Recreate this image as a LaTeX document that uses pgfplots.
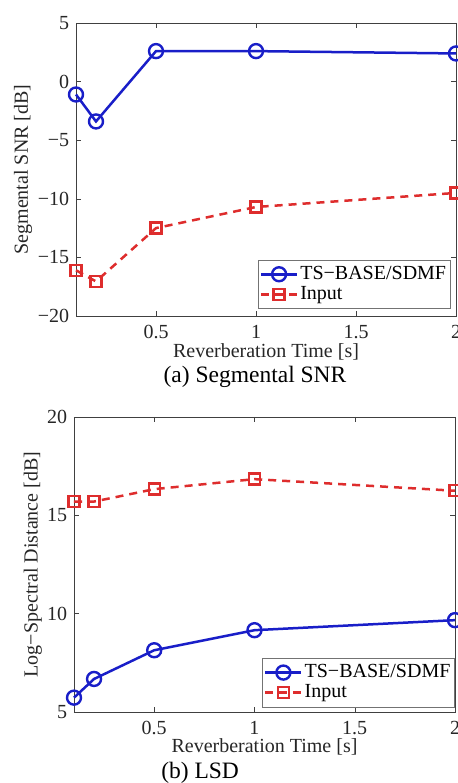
\documentclass[border=0pt]{standalone}
\usepackage{fontspec}
\setmainfont{Liberation Serif}
\usepackage{pgfplots}
\pgfplotsset{compat=1.18}

\definecolor{tsblue}{RGB}{25,30,200}
\definecolor{inred}{RGB}{222,45,45}

\pgfplotsset{
  matlab/.style={
    scale only axis,
    clip=false,
    anchor=south west,
    xmin=0.1, xmax=2,
    xtick={0.5,1,1.5,2},
    xticklabels={0.5,1,1.5,2},
    tick align=inside,
    major tick length=5pt,
    axis line style={black!75},
    every tick/.style={black!75},
    /pgf/number format/assume math mode=true,
    tick label style={font=\fontsize{20}{24}\selectfont, text=black!85},
    label style={font=\fontsize{20}{24}\selectfont, text=black!85},
    xticklabel style={yshift=-2pt},
    legend cell align=left,
    legend style={font=\fontsize{20}{23}\selectfont, draw=black!55, inner xsep=2pt, inner ysep=4pt, row sep=0pt},
    legend image code/.code={
      \draw[mark repeat=2,mark phase=2] plot coordinates {(0pt,0pt) (18pt,0pt) (36pt,0pt)};
    },
  },
  tsline/.style={color=tsblue, line width=2.5pt, mark=o, mark size=7pt, mark options={solid, line width=2.4pt}},
  inline/.style={color=inred, line width=2.5pt, dash pattern=on 8pt off 6pt, mark=square, mark size=5.5pt, mark options={solid, line width=2.4pt}},
}

\begin{document}
\fontsize{20}{24}\selectfont
\begin{tikzpicture}
\useasboundingbox (0,0) rectangle (457pt,783pt);

% (a) segmental SNR
\begin{axis}[matlab,
  at={(76pt,467pt)}, width=380pt, height=293pt,
  ymin=-20, ymax=5,
  ytick={-20,-15,-10,-5,0,5},
  yticklabels={−20,−15,−10,−5,0,5},
  xlabel={Reverberation Time [s]},
  ylabel={Segmental SNR [dB]},
  xlabel style={at={(axis description cs:0.5,-0.123)}, anchor=center},
  ylabel style={at={(axis description cs:-0.139,0.5)}, anchor=center},
  legend style={at={(axis description cs:0.985,0.025)}, anchor=south east},
]
\addplot[tsline] coordinates {(0.1,-1.1) (0.2,-3.4) (0.5,2.6) (1,2.6) (2,2.4)};
\addplot[inline] coordinates {(0.1,-16.1) (0.2,-17.05) (0.5,-12.5) (1,-10.7) (2,-9.5)};
\legend{TS−BASE/SDMF, Input}
\node[font=\fontsize{23.5}{28}\selectfont] at (axis description cs:0.471,-0.208) {(a) Segmental SNR};
\end{axis}

% (b) LSD
\begin{axis}[matlab,
  at={(74pt,71pt)}, width=381pt, height=295pt,
  ymin=5, ymax=20,
  ytick={5,10,15,20},
  xlabel={Reverberation Time [s]},
  ylabel={Log−Spectral Distance [dB]},
  xlabel style={at={(axis description cs:0.5,-0.119)}, anchor=center},
  ylabel style={at={(axis description cs:-0.108,0.5)}, anchor=center},
  legend style={at={(axis description cs:0.999,0.017)}, anchor=south east},
]
\addplot[tsline] coordinates {(0.1,5.73) (0.2,6.68) (0.5,8.14) (1,9.16) (2,9.67)};
\addplot[inline] coordinates {(0.1,15.7) (0.2,15.7) (0.5,16.33) (1,16.84) (2,16.25)};
\legend{TS−BASE/SDMF, Input}
\node[font=\fontsize{23.5}{28}\selectfont] at (axis description cs:0.331,-0.207) {(b) LSD};
\end{axis}
\end{tikzpicture}
\end{document}
